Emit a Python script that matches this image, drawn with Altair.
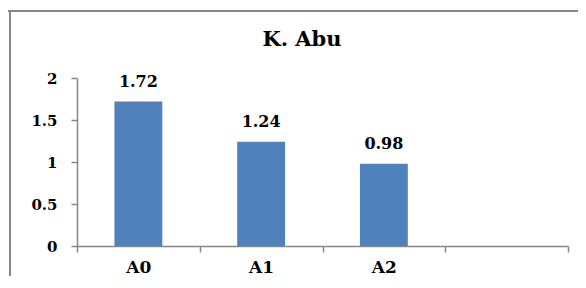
import altair as alt
import pandas as pd

categories = ["A0", "A1", "A2"]
values = [1.72, 1.24, 0.98]
domain = ["A0", "A1", "A2", " "]
y_ticks = [0, 0.5, 1, 1.5, 2]
title_text = ["K. Abu"]

df = pd.DataFrame({"cat": categories, "val": values})
FONT = "DejaVu Serif"
GRAY = "#868686"

x_enc = alt.X("cat:N", sort=domain,
              scale=alt.Scale(domain=domain, paddingInner=0, paddingOuter=0),
              axis=alt.Axis(title=None, labelAngle=0, tickBand="extent", domainColor=GRAY,
                            tickColor=GRAY, tickSize=6, domainWidth=1.5, tickWidth=1.5,
                            labelFont=FONT, labelFontSize=17, labelFontWeight="bold",
                            labelColor="black", labelPadding=7))
y_enc = alt.Y("val:Q", scale=alt.Scale(domain=[0, 2]),
              axis=alt.Axis(title=None, values=y_ticks, format="~g", grid=False,
                            domainColor=GRAY, tickColor=GRAY, tickSize=6,
                            domainWidth=1.5, tickWidth=1.5,
                            labelFont=FONT, labelFontSize=15, labelFontWeight="bold",
                            labelColor="black", labelPadding=14))

bars = alt.Chart(df).mark_bar(color="#4F81BD", width=alt.RelativeBandSize(0.39)).encode(
    x=x_enc, y=y_enc)
labels = alt.Chart(df).mark_text(font=FONT, fontSize=16, fontWeight="bold", color="black",
                                 baseline="bottom", dy=-12).encode(
    x=alt.X("cat:N", sort=domain), y="val:Q", text=alt.Text("val:Q", format=".2f"))
one = pd.DataFrame({"a": [0]})
frame_top = alt.Chart(one).mark_rule(color=GRAY, strokeWidth=2).encode(
    x=alt.value(-69), x2=alt.value(520), y=alt.value(-67))
frame_left = alt.Chart(one).mark_rule(color=GRAY, strokeWidth=2).encode(
    x=alt.value(-67), y=alt.value(-68), y2=alt.value(220))
title = alt.Chart(pd.DataFrame({"t": title_text})).mark_text(
    font=FONT, fontSize=21, fontWeight="bold", color="black",
    align="center", baseline="alphabetic").encode(
    x=alt.value(225), y=alt.value(-32), text="t:N")

chart = alt.layer(frame_top, frame_left, bars, labels, title).properties(
    width=491, height=168,
    autosize=alt.AutoSizeParams(type="none"),
    padding={"left": 69, "top": 70, "right": 10, "bottom": 30},
).configure_view(stroke=None)

chart.save("out.html", embed_options={"renderer": "svg", "actions": False})
